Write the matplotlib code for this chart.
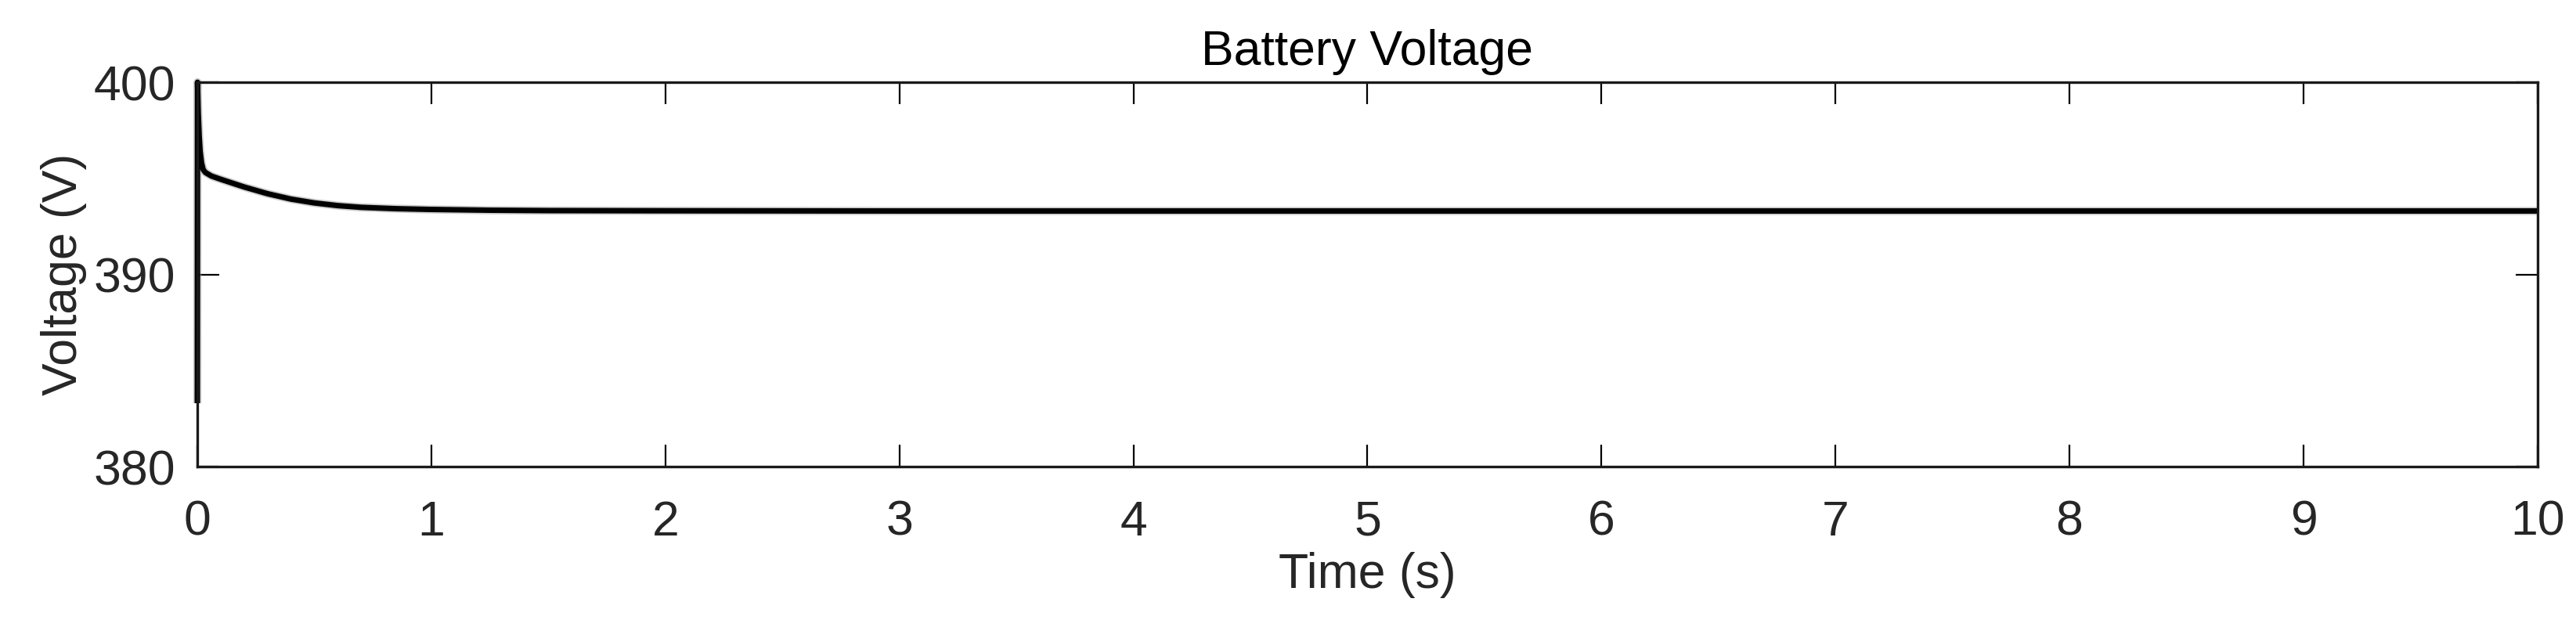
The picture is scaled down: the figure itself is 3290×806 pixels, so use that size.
import numpy as np
import matplotlib.pyplot as plt

plt.rcParams["font.family"] = ["Liberation Sans", "DejaVu Sans"]

_DPI = 100

# battery voltage (time in s, voltage in V)
time_s = [0.0, 0.0008, 0.004, 0.008, 0.012, 0.018, 0.025, 0.035, 0.06, 0.1,
          0.15, 0.2, 0.3, 0.4, 0.5, 0.6, 0.7, 0.85, 1.0, 1.25,
          1.5, 2.0, 3.0, 4.0, 5.0, 6.0, 7.0, 8.0, 9.0, 10.0]
voltage_v = [383.3, 400.0, 398.4, 397.2, 396.4, 395.8, 395.45, 395.3, 395.12, 394.95,
             394.75, 394.55, 394.2, 393.92, 393.72, 393.58, 393.49, 393.42, 393.38, 393.34,
             393.32, 393.31, 393.3, 393.3, 393.3, 393.3, 393.3, 393.3, 393.3, 393.3]

x_ticks = [0, 1, 2, 3, 4, 5, 6, 7, 8, 9, 10]
y_ticks = [380, 390, 400]

fig = plt.figure(figsize=(32.9, 8.06), dpi=_DPI)
ax = fig.add_axes([0.0766, 0.2605, 0.9085, 0.6092])

# grey halo stands in for the ripple around the trace
ax.plot(time_s, voltage_v, color="#9a9a9a", linewidth=7.5, alpha=0.5,
        solid_joinstyle="round", solid_capstyle="butt", clip_on=False)
ax.plot(time_s, voltage_v, color="black", linewidth=5.0,
        solid_joinstyle="round", solid_capstyle="butt", clip_on=False)

ax.set_xlim(0, 10)
ax.set_ylim(380, 400)
ax.set_xticks(x_ticks)
ax.set_yticks(y_ticks)

# matlab style box with inward ticks on all sides
ax.tick_params(direction="in", length=20, width=1.6, top=True, right=True,
               labelsize=45, labelcolor="#262626", pad=20)
ax.tick_params(axis="x", pad=30)
for s in ax.spines.values():
    s.set_linewidth(2.4)
    s.set_color("#1a1a1a")

ax.set_title("Battery Voltage", fontsize=45, color="black", pad=16)
ax.set_xlabel("Time (s)", fontsize=45, color="#262626", labelpad=6)
ax.set_ylabel("Voltage (V)", fontsize=45, color="#262626", labelpad=6)

fig.savefig("out.png", dpi=_DPI, facecolor="white")
